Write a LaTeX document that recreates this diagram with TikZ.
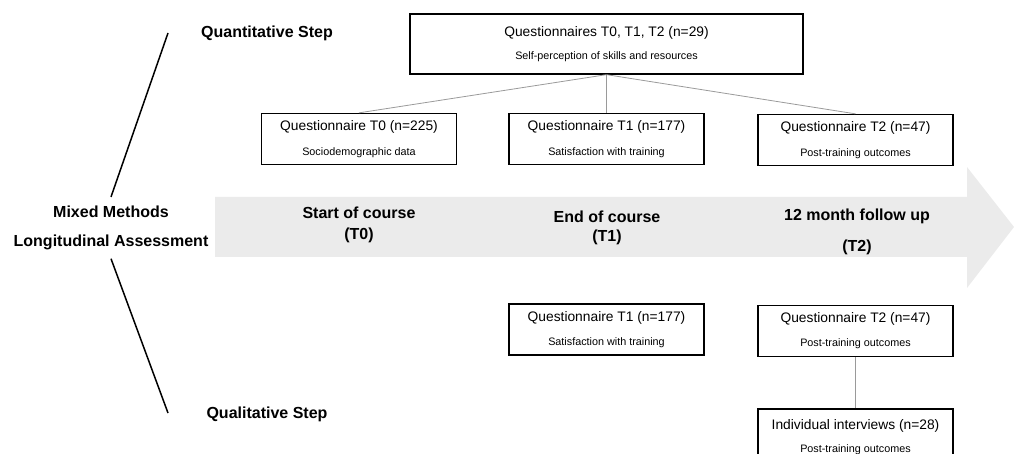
\documentclass[tikz,border=0pt]{standalone}
\usepackage{fontspec}
\setmainfont{Liberation Sans}
\usetikzlibrary{positioning}

\definecolor{bandgray}{HTML}{EBEBEB}
\definecolor{linkgray}{HTML}{9A9A9A}

\newcommand{\boxtitle}{\fontsize{13.8}{15}\selectfont}
\newcommand{\boxsub}{\fontsize{10.8}{12}\selectfont}
\newcommand{\bigbold}{\fontsize{16}{18}\selectfont\bfseries}

\begin{document}
\begin{tikzpicture}[x=1pt,y=-1pt,
    qbox/.style={draw=black,line width=1.3pt,minimum width=195pt,minimum height=51pt,
      inner sep=0pt,align=center},
    stamp/.style={align=center,inner sep=0pt},
    link/.style={draw=linkgray,line width=0.8pt},
    branch/.style={draw=black,line width=1.5pt}]

    \useasboundingbox (0,0) rectangle (1014,454);
    \clip (0,0) rectangle (1014,454);

    % the time line
    \fill[bandgray] (215,197) -- (967,197) -- (967,167) -- (1014,227)
      -- (967,288) -- (967,257) -- (215,257) -- cycle;

    \node[stamp,font=\bigbold] (start) at (359,225) {Start of course\\[3pt](T0)};
    \node[stamp,font=\bigbold] (end) at (607,228) {End of course\\[1pt](T1)};
    \node[stamp,font=\bigbold] (follow) at (857,232) {12 month follow up\\[13pt](T2)};

    % the left side
    \node[stamp,font=\bigbold] (mixed) at (111,212) {Mixed Methods};
    \node[stamp,font=\bigbold] (longi) at (111,242) {Longitudinal Assessment};
    \node[stamp,font=\bigbold] (quanti) at (267,33) {Quantitative Step};
    \node[stamp,font=\bigbold] (quali) at (267,414) {Qualitative Step};

    \coordinate (upend) at (168,33);
    \coordinate (downend) at (168,413);
    \draw[branch] (mixed.north) ++(0,-9) coordinate (mixtop) (mixtop) -- (upend);
    \draw[branch] (longi.south) ++(0,9) coordinate (longbot) (longbot) -- (downend);

    % quantitative boxes
    \node[qbox,minimum width=393pt,minimum height=60pt] (qall) at (606.5,44)
      {\boxtitle Questionnaires T0, T1, T2 (n=29)\\[11pt]\boxsub Self-perception of skills and resources};
    \node[qbox] (qa0) at (359,139)
      {\boxtitle Questionnaire T0 (n=225)\\[13pt]\boxsub Sociodemographic data};
    \node[qbox] (qa1) at (606.5,139)
      {\boxtitle Questionnaire T1 (n=177)\\[13pt]\boxsub Satisfaction with training};
    \node[qbox] (qa2) at (855.5,140)
      {\boxtitle Questionnaire T2 (n=47)\\[13pt]\boxsub Post-training outcomes};

    \draw[link] (qall.south) -- (qa0.north);
    \draw[link] (qall.south) -- (qa1.north);
    \draw[link] (qall.south) -- (qa2.north);

    % qualitative boxes
    \node[qbox] (ql1) at (606.5,329.5)
      {\boxtitle Questionnaire T1 (n=177)\\[12pt]\boxsub Satisfaction with training};
    \node[qbox] (ql2) at (855.5,331)
      {\boxtitle Questionnaire T2 (n=47)\\[12pt]\boxsub Post-training outcomes};
    \node[qbox,minimum height=56pt] (inter) at (855.5,437)
      {\boxtitle Individual interviews (n=28)\\[11pt]\boxsub Post-training outcomes};

    \draw[link] (ql2.south) -- (inter.north);
\end{tikzpicture}
\end{document}
